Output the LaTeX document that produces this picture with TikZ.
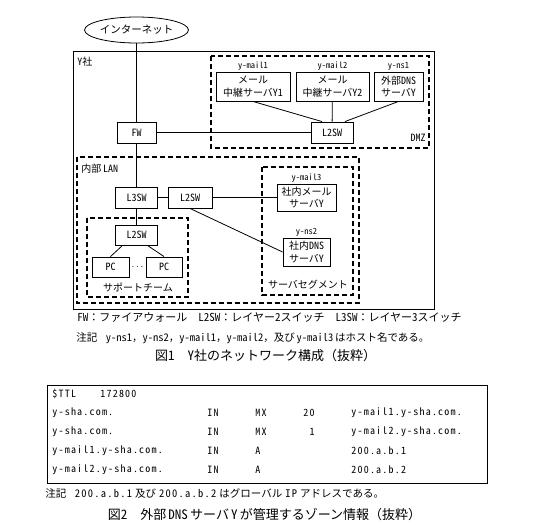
\documentclass[tikz,border=0pt]{standalone}
\usepackage{fontspec}
\setmainfont{Noto Sans CJK JP}[RawFeature=+hwid]
\newfontfamily\jpfull{Noto Sans CJK JP}
\newfontfamily\zonefont{Noto Sans CJK JP}[RawFeature=+hwid,LetterSpace=12]
\newcommand\fwp[1]{{\jpfull#1}}
\usetikzlibrary{positioning,shapes.geometric}

\begin{document}
\begin{tikzpicture}[x=1pt,y=-1pt,line width=0.8pt,
  box/.style={draw,line width=0.9pt,inner sep=1pt,align=center,font=\fontsize{10}{12.5}\selectfont},
  grp/.style={draw,line width=1.1pt,dash pattern=on 5pt off 3pt},
  hl/.style={font=\fontsize{8.5}{9}\selectfont,inner sep=0.5pt},
  tx/.style={font=\fontsize{10}{11}\selectfont,inner sep=0pt},
  zn/.style={font=\zonefont\fontsize{10}{11}\selectfont,inner sep=0pt}]
  \fill[white] (0,0) rectangle (533,525);
  % Y社
  \node[draw,ellipse,minimum width=86pt,minimum height=26pt,inner sep=0pt,font=\fontsize{10.5}{12}\selectfont] (inet) at (136.5,30) {インターネット};
  \draw[line width=1pt] (73,51) rectangle (434,309);
  \node[tx,anchor=west] (ysha) at (77,62) {Y社};
  % DMZ
  \draw[grp] (211,56) rectangle (429,148);
  \node[tx,anchor=east] (dmz) at (426,138) {DMZ};
  \node[box,minimum width=74pt,minimum height=29pt] (m1) at (253,86.5) {メール\\中継サーバY1};
  \node[box,minimum width=73pt,minimum height=29pt] (m2) at (332.5,86.5) {メール\\中継サーバY2};
  \node[box,minimum width=49pt,minimum height=29pt] (ns1) at (398.5,86.5) {外部DNS\\サーバY};
  \node[hl,above=0pt of m1] (m1h) {y-mail1};
  \node[hl,above=0pt of m2] (m2h) {y-mail2};
  \node[hl,above=0pt of ns1] (ns1h) {y-ns1};
  \node[box,minimum width=42pt,minimum height=21pt] (dsw) at (332,132.5) {L2SW};
  \node[box,minimum width=39pt,minimum height=21pt] (fw) at (136.5,132.5) {FW};
  % 内部LAN
  \draw[grp] (77,157) rectangle (359,303);
  \node[tx,anchor=west] (lan) at (81,169) {内部\,LAN};
  \node[box,minimum width=42pt,minimum height=21pt] (l3) at (136.5,197.5) {L3SW};
  \node[box,minimum width=44pt,minimum height=21pt] (lsw) at (190,197.5) {L2SW};
  % サーバセグメント
  \draw[grp] (262,167) rectangle (353,295);
  \node[tx] (seg) at (308,285) {サーバセグメント};
  \node[box,minimum width=59pt,minimum height=27pt] (m3) at (306.5,197.5) {社内メール\\サーバY};
  \node[box,minimum width=47pt,minimum height=28pt] (ns2) at (306.5,252) {社内DNS\\サーバY};
  \node[hl,above=0pt of m3] (m3h) {y-mail3};
  \node[hl,above=0pt of ns2] (ns2h) {y-ns2};
  % サポートチーム
  \draw[grp] (87,218) rectangle (188,297);
  \node[tx] (sup) at (138,287) {サポートチーム};
  \node[box,minimum width=42pt,minimum height=20pt] (ssw) at (136.5,235) {L2SW};
  \node[box,minimum width=37pt,minimum height=20pt] (pc1) at (110.5,267) {PC};
  \node[box,minimum width=36pt,minimum height=20pt] (pc2) at (164,267) {PC};
  \node (dots) at (137.5,267) {$\cdots$};
  % 接続
  \draw (inet) -- (fw);
  \draw (fw) -- (dsw);
  \draw (fw) -- (l3);
  \draw (l3) -- (lsw);
  \draw (l3) -- (ssw);
  \draw (lsw) -- (m3);
  \draw (lsw.south) -- (ns2.west);
  \draw (m1.south) -- ([xshift=-10pt]dsw.north);
  \draw (m2) -- (dsw);
  \draw (ns1.south) -- ([xshift=13pt]dsw.north);
  \draw ([xshift=-14pt]ssw.south) -- (pc1.north);
  \draw ([xshift=11pt]ssw.south) -- (pc2.north);
  % 凡例・図1
  \node[tx,anchor=west,font=\fontsize{11}{12}\selectfont] (leg) at (77,318) {FW\fwp{：}ファイアウォール\hspace{1em}L2SW\fwp{：}レイヤー2スイッチ\hspace{1em}L3SW\fwp{：}レイヤー3スイッチ};
  \node[tx,anchor=west,font=\fontsize{10.5}{12}\selectfont] (note1) at (76,338) {注記\hspace{0.8em}y-ns1\fwp{，}y-ns2\fwp{，}y-mail1\fwp{，}y-mail2\fwp{，}及び\,y-mail3\,はホスト名である。};
  \node[font=\fontsize{13}{14}\selectfont] (cap1) at (265.5,356) {図1\hspace{1em}Y社のネットワーク構成\fwp{（}抜粋\fwp{）}};
  % 図2
  \draw[line width=0.9pt] (47,385) rectangle (487,483);
  \node[zn,anchor=west] (ttl) at (52,394) {\$TTL};
  \node[zn,anchor=west] (ttlv) at (100,394) {172800};
  \foreach \nm/\ty/\pr/\val [count=\i] in {y-sha.com./MX/20/y-mail1.y-sha.com.,y-sha.com./MX/1/y-mail2.y-sha.com.,y-mail1.y-sha.com./A//200.a.b.1,y-mail2.y-sha.com./A//200.a.b.2}{
    \node[zn,anchor=west] (rn\i) at (52,394+19*\i) {\nm};
    \node[zn,anchor=west] (rc\i) at (207,394+19*\i) {IN};
    \node[zn,anchor=west] (rt\i) at (255,394+19*\i) {\ty};
    \node[zn,anchor=east] (rp\i) at (315,394+19*\i) {\pr};
    \node[zn,anchor=west] (rv\i) at (351,394+19*\i) {\val};
  }
  \node[tx,anchor=west,font=\fontsize{10.5}{12}\selectfont] (note2) at (45,493) {注記\hspace{0.8em}{\zonefont 200.a.b.1}\hspace{3pt}及び\hspace{3pt}{\zonefont 200.a.b.2}\hspace{3pt}はグローバル\hspace{3pt}{\zonefont IP}\hspace{3pt}アドレスである。};
  \node[font=\fontsize{13}{14}\selectfont] (cap2) at (264.5,515) {図2\hspace{1em}外部\,DNS\,サーバ\,Y\,が管理するゾーン情報\fwp{（}抜粋\fwp{）}};
\end{tikzpicture}
\end{document}
